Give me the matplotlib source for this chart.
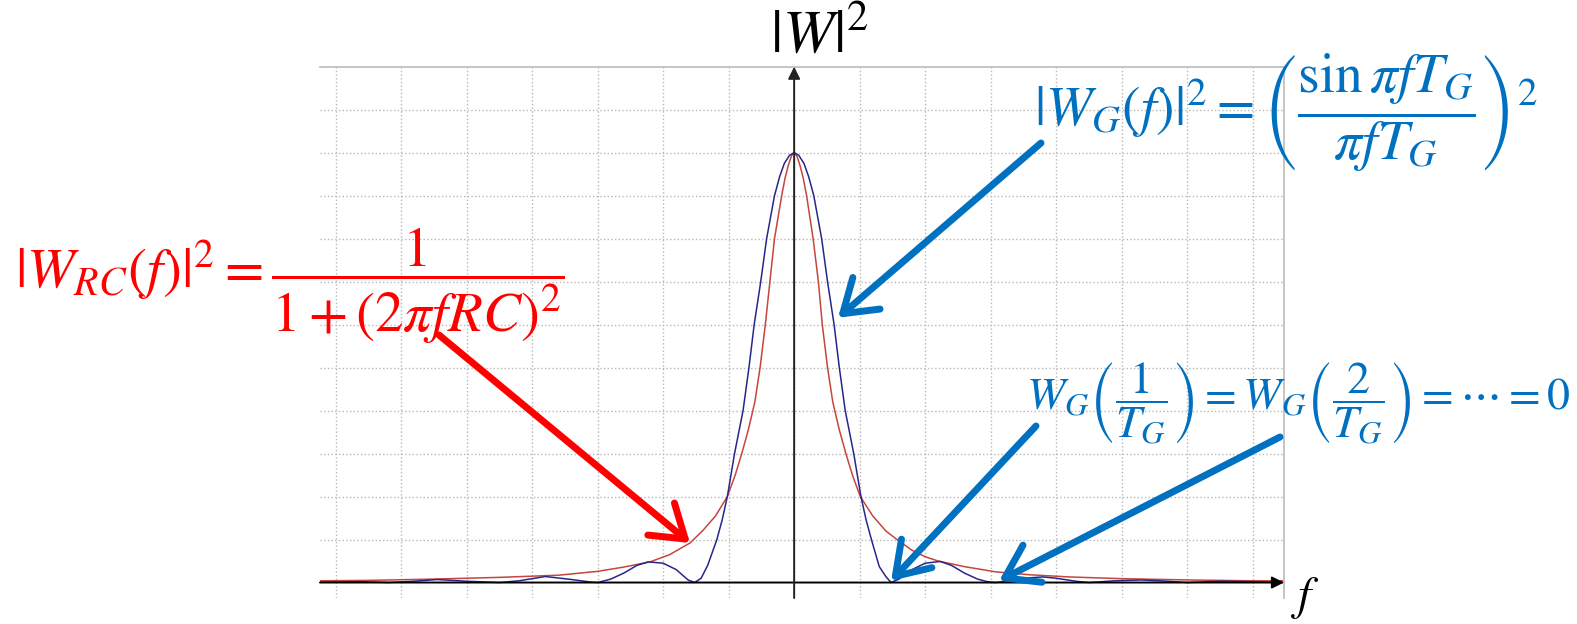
import matplotlib.pyplot as plt

plt.rcParams['mathtext.fontset'] = 'stix'

# values: f in grid units, |W|^2 in grid units (peak = 10)
f_rc = [-7.24, -6.5, -5.5, -4.5, -3.6, -3.0, -2.6, -2.2, -1.9, -1.59, -1.4, -1.2,
        -1.02, -0.9, -0.8, -0.7, -0.6, -0.52, -0.44, -0.37, -0.3, -0.19, -0.14, -0.09,
        -0.04, 0.0, 0.04, 0.09, 0.14, 0.19, 0.29, 0.37, 0.43, 0.51, 0.59, 0.69,
        0.79, 0.89, 1.01, 1.2, 1.4, 1.57, 1.8, 2.0, 2.2, 2.6, 3.07, 3.6, 4.2,
        5.0, 6.0, 7.0, 7.48]
w_rc = [0.04, 0.05, 0.08, 0.12, 0.17, 0.26, 0.36, 0.48, 0.65, 0.92, 1.2, 1.55,
        2.0, 2.5, 3.0, 3.55, 4.2, 5.0, 6.0, 7.0, 8.0, 9.0, 9.4, 9.7,
        9.93, 10.0, 9.93, 9.7, 9.4, 9.0, 8.0, 7.0, 6.0, 5.0, 4.2, 3.55,
        3.0, 2.5, 2.0, 1.55, 1.2, 1.0, 0.75, 0.6, 0.5, 0.37, 0.25, 0.18, 0.13,
        0.09, 0.06, 0.04, 0.04]

f_g = [-7.24, -6.6, -6.2, -5.8, -5.45, -5.0, -4.5, -4.2, -3.8, -3.4, -3.1, -3.0,
       -2.8, -2.6, -2.4, -2.23, -2.0, -1.8, -1.62, -1.52, -1.42, -1.32, -1.18, -1.1,
       -1.02, -0.91, -0.78, -0.69, -0.61, -0.51, -0.42, -0.3, -0.22, -0.15, -0.07, 0.0,
       0.07, 0.15, 0.22, 0.3, 0.42, 0.51, 0.61, 0.69, 0.78, 0.91, 1.02, 1.1, 1.18,
       1.3, 1.4, 1.48, 1.6, 1.8, 2.0, 2.23, 2.4, 2.6, 2.8, 2.95, 3.07, 3.3, 3.6,
       3.8, 4.0, 4.3, 4.5, 4.9, 5.3, 5.7, 6.0, 6.5, 7.0, 7.48]
w_g = [0.01, 0.02, 0.0, 0.03, 0.07, 0.03, 0.0, 0.04, 0.14, 0.07, 0.01, 0.0,
       0.08, 0.22, 0.4, 0.48, 0.45, 0.3, 0.06, 0.0, 0.1, 0.4, 1.0, 1.45,
       2.0, 3.0, 4.0, 5.0, 6.0, 7.0, 8.0, 9.0, 9.45, 9.75, 9.94, 10.0,
       9.94, 9.75, 9.45, 9.0, 8.0, 7.0, 6.0, 5.0, 4.0, 3.0, 2.0, 1.45, 1.0,
       0.37, 0.14, 0.0, 0.08, 0.3, 0.45, 0.49, 0.4, 0.22, 0.08, 0.02, 0.0, 0.04, 0.11,
       0.13, 0.1, 0.03, 0.0, 0.04, 0.06, 0.03, 0.0, 0.03, 0.02, 0.0]

W, H = 1577, 624


def px(x, y):
    # pixel position (from top-left) -> figure fraction
    return (x / W, 1 - y / H)


fig = plt.figure(figsize=(W / 100, H / 100), dpi=100)
ax = fig.add_axes([320 / W, 26 / H, 964 / W, 531.3 / H])
ax.set_xlim(-7.24, 7.48)
ax.set_ylim(-0.36, 12.0)

ax.set_xticks(range(-7, 8))
ax.set_yticks(range(1, 12))
ax.tick_params(length=0, labelbottom=False, labelleft=False)
ax.grid(True, ls=':', color='#b8b8b8', lw=1.0)
for s in ['left', 'bottom']:
    ax.spines[s].set_visible(False)
for s in ['top', 'right']:
    ax.spines[s].set_color('#c0c0c0')
    ax.spines[s].set_linewidth(1.3)

# axes with arrow heads
ax.annotate('', xy=(7.48, 0), xytext=(-7.24, 0),
            arrowprops=dict(arrowstyle='-|>', color='black', lw=1.4,
                            mutation_scale=18, shrinkA=0, shrinkB=0),
            annotation_clip=False)
ax.annotate('', xy=(0, 12.0), xytext=(0, -0.36),
            arrowprops=dict(arrowstyle='-|>', color='#222222', lw=1.4,
                            mutation_scale=18, shrinkA=0, shrinkB=0),
            annotation_clip=False)

# curves
ax.plot(f_rc, w_rc, color='#c4463e', lw=1.1)
ax.plot(f_g, w_g, color='#27278a', lw=1.1)

red = '#ff0000'
blue = '#0070c0'

fig.text(*px(770, 35), r'$|W|^2$', fontsize=44, ha='left', va='center')
fig.text(*px(1291, 598), r'$f$', fontsize=34, ha='left', va='center')

fig.text(*px(15, 286), r'$|W_{RC}(f)|^2 = \dfrac{1}{1+(2\pi fRC)^2}$',
         fontsize=41, color=red, ha='left', va='center')
fig.text(*px(1034, 113),
         r'$|W_G(f)|^2 = \left(\dfrac{\sin\pi fT_G}{\pi fT_G}\right)^2$',
         fontsize=40, color=blue, ha='left', va='center')
fig.text(*px(1026, 403),
         r'$W_G\left(\dfrac{1}{T_G}\right) = W_G\left(\dfrac{2}{T_G}\right) = \cdots = 0$',
         fontsize=33, color=blue, ha='left', va='center')

# pointer arrows
arrow_kw = dict(arrowstyle='->,head_length=0.45,head_width=0.3', lw=5,
                mutation_scale=50, shrinkA=0, shrinkB=0)
ax.annotate('', xy=(-1.59, 0.92), xytext=px(439, 335), textcoords='figure fraction',
            arrowprops=dict(color=red, **arrow_kw), annotation_clip=False)
ax.annotate('', xy=(0.67, 6.16), xytext=px(1041, 143), textcoords='figure fraction',
            arrowprops=dict(color=blue, **arrow_kw), annotation_clip=False)
ax.annotate('', xy=(1.48, 0.04), xytext=px(1036, 426), textcoords='figure fraction',
            arrowprops=dict(color=blue, **arrow_kw), annotation_clip=False)
ax.annotate('', xy=(3.13, 0.04), xytext=px(1280, 437), textcoords='figure fraction',
            arrowprops=dict(color=blue, **arrow_kw), annotation_clip=False)

fig.savefig('out.png', dpi=100)
